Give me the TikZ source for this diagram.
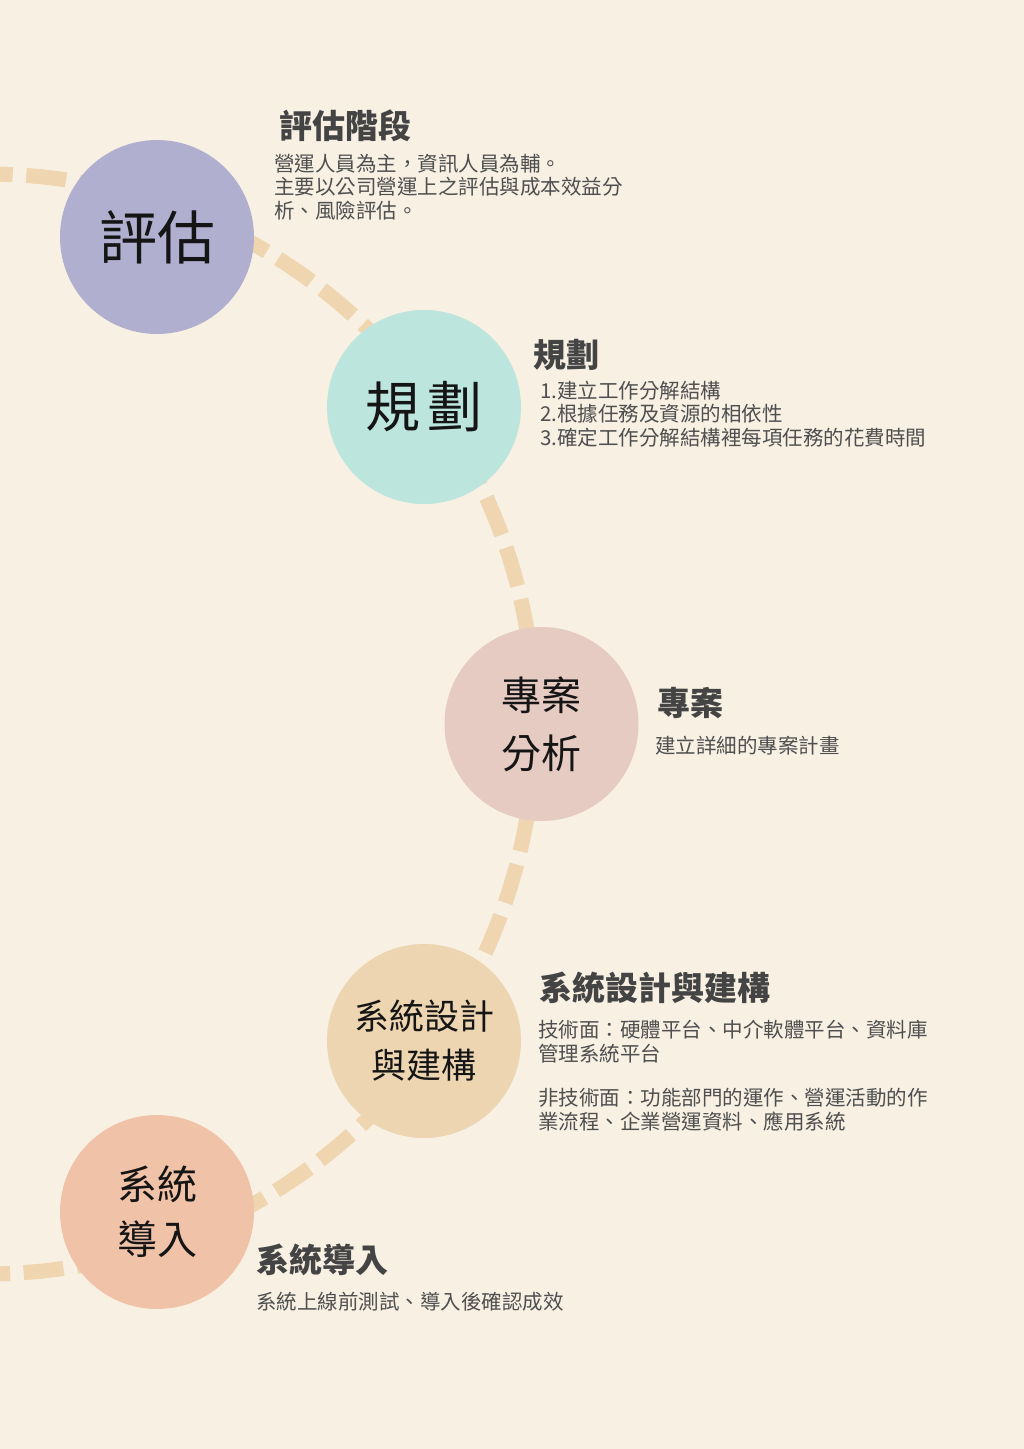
\documentclass[tikz,border=0pt]{standalone}
\usepackage{fontspec}
\newfontfamily\cjk{Noto Sans CJK TC}
\definecolor{bg}{HTML}{F7F0E3}
\definecolor{arccol}{HTML}{EFD5B0}
\definecolor{cA}{HTML}{B1AFD0}
\definecolor{cB}{HTML}{BCE6DD}
\definecolor{cC}{HTML}{E6CBC2}
\definecolor{cD}{HTML}{EDD5B1}
\definecolor{cE}{HTML}{F0C3A8}
\definecolor{titlecol}{HTML}{444444}
\definecolor{bodycol}{HTML}{4F4F4F}
\definecolor{inkcol}{HTML}{151515}
\tikzset{
  stage/.style={circle, inner sep=0pt, minimum size=194pt, text=inkcol, align=center},
  ttl/.style={anchor=west, inner sep=0pt, text=titlecol, font=\cjk\bfseries\fontsize{33}{38}\selectfont},
  body/.style={anchor=west, inner sep=0pt, text=bodycol, align=left, font=\cjk\fontsize{20.5}{23.5}\selectfont},
  arcline/.style={draw=arccol, line width=15pt, dash pattern=on 40pt off 13.6pt, dash phase=46.7pt}
}
\begin{document}
\begin{tikzpicture}[x=1pt, y=-1pt]
\useasboundingbox (0,0) rectangle (1024,1449);
\fill[bg] (0,0) rectangle (1024,1449);
\begin{scope}
\clip (0,0) rectangle (1024,1449);
\coordinate (arcstart) at ([shift={(-92:550)}]-15,724);
\draw[arcline] (arcstart) arc[start angle=-92, end angle=92, radius=550];
\end{scope}

\node[stage, fill=cA, font=\cjk\fontsize{58}{64}\selectfont] (eval) at (157,237) {評估};
\node[stage, fill=cB, font=\cjk\fontsize{55}{62}\selectfont] (plan) at (424,407) {規\hspace{7pt}劃};
\node[stage, fill=cC, font=\cjk\fontsize{40}{58}\selectfont] (anal) at (541.5,724) {專案\\分析};
\node[stage, fill=cD, font=\cjk\fontsize{35}{49}\selectfont] (design) at (424,1041) {系統設計\\與建構};
\node[stage, fill=cE, font=\cjk\fontsize{40}{55}\selectfont] (impl) at (157,1212) {系統\\導入};

\node[ttl] (t1) at (279,126) {評估階段};
\node[body] (b1) at (274,187) {營運人員為主，資訊人員為輔。\\主要以公司營運上之評估與成本效益分\\析、風險評估。};

\node[ttl] (t2) at (533,355) {規劃};
\node[body] (b2) at (540,414) {1.建立工作分解結構\\2.根據任務及資源的相依性\\3.確定工作分解結構裡每項任務的花費時間};

\node[ttl] (t3) at (657,703) {專案};
\node[body] (b3) at (655,746) {建立詳細的專案計畫};

\node[ttl] (t4) at (539,988) {系統設計與建構};
\node[body] (b4a) at (538,1041.5) {技術面：硬體平台、中介軟體平台、資料庫\\管理系統平台};
\node[body] (b4b) at (538,1109.5) {非技術面：功能部門的運作、營運活動的作\\業流程、企業營運資料、應用系統};

\node[ttl] (t5) at (256,1260) {系統導入};
\node[body] (b5) at (256,1302) {系統上線前測試、導入後確認成效};
\end{tikzpicture}
\end{document}
